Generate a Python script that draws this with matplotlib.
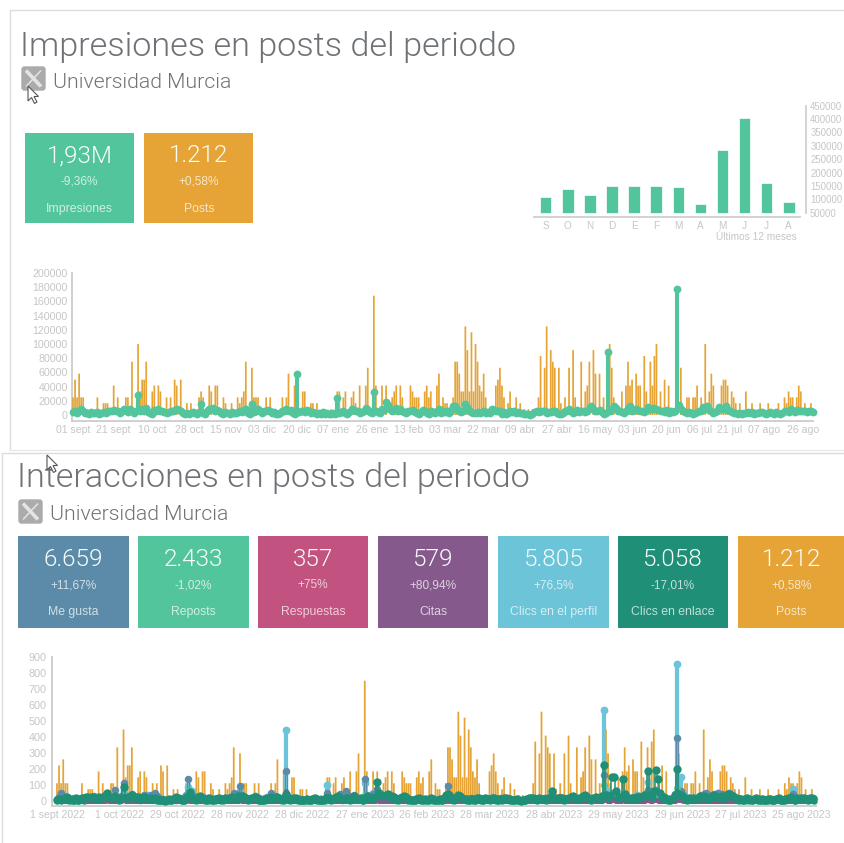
import matplotlib
matplotlib.use("Agg")
import matplotlib.pyplot as plt
from matplotlib.patches import Rectangle, FancyBboxPatch, Polygon

plt.rcParams['font.family'] = ['Liberation Sans', 'DejaVu Sans']
LIGHT = ['Roboto', 'Liberation Sans']

W, H = 845, 843
GREEN, ORANGE = '#52c59d', '#e5a435'
BLUEGREY, PINK, PURPLE, SKY, TEAL = '#5b8ba8', '#c2527f', '#85598c', '#6cc4d8', '#1f8f78'
TICK = '#c6c6c6'; AXIS = '#cfcfcf'; TITLE = '#6e7276'

# ---------- data ----------
post_days = [0,1,2,3,4,5,7,9,12,15,16,17,20,22,24,26,27,29,32,33,34,35,36,39,40,42,43,46,48,50,51,53,56,58,60,62,63,64,
 67,68,70,71,74,75,78,81,82,83,84,85,88,89,90,91,93,95,97,100,103,105,106,109,110,113,114,117,118,120,124,127,130,131,133,134,
 137,138,139,141,144,145,148,149,152,154,157,158,159,161,162,166,167,168,169,170,173,174,175,176,179,180,182,183,184,187,188,189,190,191,192,193,
 194,195,196,197,198,199,200,201,202,203,205,206,208,209,210,211,212,214,215,218,220,222,224,229,230,232,233,235,236,237,239,240,242,244,
 246,247,250,252,253,254,256,257,259,261,264,265,266,270,272,273,274,275,277,278,279,281,282,284,285,286,287,289,291,293,297,299,302,303,305,306,307,
 309,311,313,314,315,319,320,321,322,324,325,326,328,331,334,338,342,347,350,351,352,353,354,356,357,358,360,363]
post_vals = [111,222,111,260,111,111,37,37,111,74,74,74,185,111,37,111,111,335,446,148,222,222,335,148,185,185,148,111,111,222,185,222,74,74,37,111,148,111,
 185,148,185,185,111,74,74,111,74,111,148,335,297,111,111,111,37,111,111,37,111,111,260,185,148,148,148,74,74,74,37,37,148,148,111,148,
 111,148,74,185,185,297,750,185,185,185,111,148,185,185,111,185,148,111,111,111,148,185,111,148,185,260,111,74,74,111,335,335,260,148,148,557,
 408,148,520,148,446,335,185,148,260,111,37,37,185,222,297,185,111,74,148,111,74,37,37,111,371,297,557,408,335,297,297,74,111,297,
 408,111,335,148,185,335,408,260,260,111,446,297,111,148,185,335,185,222,260,185,185,371,148,335,185,371,446,148,222,185,37,297,111,111,111,111,185,
 111,446,148,260,185,185,222,222,185,148,111,74,74,148,74,74,74,74,111,74,148,111,111,111,185,148,74,74]

impressions_k = [
 4,6,3,5,8,5,3,3,2,4,3,3,4,2,3,4,3,5,6,5,
 7,5,6,3,5,9,7,4,8,6,3,5,28,5,9,6,10,4,3,2,
 7,5,8,6,5,4,3,4,5,6,7,9,7,5,3,2,3,2,3,4,
 3,2,4,15,3,2,6,8,9,10,6,7,5,3,2,4,3,2,4,3,
 3,4,6,4,7,8,3,2,16,4,6,8,5,3,6,5,7,5,3,4,
 2,1,3,5,6,8,5,7,3,2,58,4,5,6,4,7,5,3,4,3,
 2,3,1,4,2,3,1,2,3,2,24,3,4,6,3,2,4,8,7,5,
 6,3,4,5,10,7,4,3,32,5,4,3,9,7,18,14,8,5,7,10,
 6,8,5,4,3,5,6,7,4,3,2,4,7,5,3,2,5,4,3,5,
 8,3,6,4,5,3,7,12,13,9,5,4,6,15,11,7,4,3,3,4,
 3,4,5,3,4,3,8,7,5,6,5,2,4,1,3,5,4,5,3,4,
 3,3,2,1,1,0,2,4,5,4,5,6,5,3,4,4,5,6,3,2,
 1,3,5,6,8,6,3,4,7,4,5,5,4,5,9,12,8,6,5,7,
 4,2,3,89,5,8,13,10,5,6,4,3,5,10,12,6,7,8,7,5,
 6,4,5,11,9,8,10,9,7,5,6,4,7,3,5,4,6,178,14,9,
 6,4,3,4,3,2,3,4,6,5,11,9,12,7,5,3,4,6,11,9,
 8,12,7,5,4,3,3,2,3,2,3,3,4,3,4,2,3,3,4,4,
 3,2,3,4,3,2,4,3,2,3,6,5,4,8,5,4,7,5,6,6,
 5,4,6,5,4]

clics_enlace = [
 8,14,6,10,22,28,14,6,9,18,7,12,20,16,24,26,22,28,20,12,
 24,16,28,34,48,26,18,24,30,16,12,20,88,18,22,30,38,16,24,26,
 12,18,28,22,14,20,12,16,10,8,6,5,3,8,14,6,10,24,18,12,
 8,6,16,30,58,20,12,10,24,30,14,10,8,16,12,8,10,14,18,12,
 10,16,14,20,24,18,12,30,16,34,28,20,14,10,18,24,16,8,6,4,
 10,14,18,24,12,20,26,16,12,10,42,16,10,14,20,18,10,6,8,4,
 10,6,8,14,18,10,6,4,8,12,24,18,10,14,26,30,16,12,14,18,
 22,10,16,30,14,12,16,8,22,34,24,14,20,28,120,48,40,30,36,44,
 20,32,28,14,10,22,26,30,24,12,6,4,8,14,18,10,6,12,8,10,
 16,10,4,6,10,8,22,38,46,28,14,10,22,36,34,18,12,10,6,14,
 10,8,22,16,10,6,20,14,12,18,16,10,8,14,10,18,20,14,10,6,
 6,10,4,2,4,8,12,16,20,18,14,10,16,12,14,10,18,22,60,20,
 14,18,22,16,10,14,20,26,30,18,12,16,20,30,38,24,12,10,18,26,
 22,12,30,225,40,18,30,150,148,60,20,28,140,46,16,12,22,18,14,24,
 20,28,30,36,190,38,26,60,195,140,50,18,24,14,10,8,16,40,200,44,
 38,28,16,10,18,14,20,12,16,30,20,34,24,14,18,30,36,26,24,16,
 30,22,38,44,40,32,22,16,10,14,8,12,16,10,6,12,18,10,8,12,
 8,6,10,14,8,6,12,16,8,4,10,14,18,24,12,8,18,14,22,20,
 14,10,18,16,10]

clics_perfil = [
 6,20,30,34,24,12,8,10,14,10,6,8,12,8,14,16,10,18,24,14,
 16,10,22,30,20,14,10,18,24,20,10,24,60,22,18,26,30,14,16,20,
 8,14,30,24,36,30,24,38,30,16,8,6,2,2,2,4,6,8,12,14,
 10,12,30,90,20,60,30,12,14,10,16,8,10,12,8,6,8,12,10,8,
 8,14,12,18,22,16,30,40,60,30,14,10,8,10,14,30,24,10,8,6,
 12,20,16,30,26,24,12,10,8,18,445,20,14,10,12,10,8,4,6,2,
 8,4,6,12,10,6,4,2,6,10,100,20,8,10,18,22,10,8,14,24,
 30,12,18,34,20,10,14,8,115,30,12,10,50,40,60,20,18,14,20,24,
 14,20,16,8,6,16,20,24,18,8,4,2,6,10,14,8,4,8,6,8,
 10,6,2,4,6,4,16,20,22,16,8,6,14,24,20,14,10,8,4,10,
 8,6,14,10,6,4,12,10,8,14,12,8,6,10,8,12,14,10,6,4,
 4,8,2,0,2,6,10,12,16,14,10,8,12,10,12,6,14,18,26,14,
 10,14,18,12,8,12,14,20,24,14,10,12,14,22,26,18,10,8,12,20,
 16,10,24,570,60,14,24,50,44,26,16,20,40,30,12,10,14,16,12,36,
 24,20,24,40,120,50,30,44,60,40,26,14,20,10,8,6,14,34,855,70,
 150,50,14,8,14,10,16,10,12,24,30,40,30,12,14,34,40,30,50,26,
 40,34,44,50,46,24,16,10,8,10,6,10,12,8,4,10,14,8,6,10,
 6,4,8,10,6,4,10,12,6,2,8,12,14,20,75,6,14,10,18,16,
 10,8,14,12,8]

me_gusta = [
 14,28,50,30,24,20,10,12,18,12,10,14,16,12,20,22,18,24,30,20,
 22,14,26,36,30,20,14,24,70,24,16,30,115,30,26,34,44,20,22,26,
 14,20,36,30,24,40,30,48,34,22,12,10,6,6,8,10,12,14,20,22,
 16,18,40,140,28,40,24,18,20,16,24,14,16,18,12,10,14,18,16,14,
 14,20,18,24,28,50,34,44,95,36,20,16,12,16,20,30,26,16,12,10,
 18,26,22,50,32,30,18,14,12,24,190,26,20,16,18,14,12,8,10,6,
 14,8,10,18,16,10,8,6,10,16,50,26,14,16,24,28,44,30,40,60,
 36,18,24,40,26,16,20,14,140,36,18,16,44,36,75,28,24,20,26,30,
 20,26,22,14,10,22,26,30,24,14,8,6,10,16,20,14,8,14,10,14,
 16,10,6,8,12,8,22,40,95,40,14,12,20,30,30,20,14,12,8,16,
 14,10,20,16,10,8,18,16,14,20,18,14,10,16,12,18,20,16,10,8,
 8,12,6,4,6,10,14,18,22,20,16,12,18,14,16,10,20,24,40,20,
 14,20,24,18,12,16,20,26,30,20,14,18,20,28,32,24,14,12,18,26,
 22,14,30,160,44,20,30,46,44,30,20,26,40,36,16,14,20,20,16,30,
 30,26,30,44,70,50,34,60,70,50,30,18,26,14,12,10,18,44,395,60,
 60,40,20,12,18,14,20,14,18,30,36,46,50,18,20,40,44,40,50,30,
 44,36,44,50,40,30,22,14,12,14,10,14,16,12,8,14,18,12,10,14,
 10,8,12,14,10,8,14,16,10,6,12,16,18,26,45,10,18,14,22,20,
 14,12,18,16,12]

reposts = [
 4,8,6,4,10,6,3,4,2,6,3,5,4,3,7,5,6,8,6,4,
 8,4,6,10,12,8,4,6,10,6,3,6,40,5,8,10,12,6,5,8,
 4,6,10,8,4,6,4,6,3,2,1,1,0,2,4,2,4,8,5,4,
 2,2,6,60,8,6,4,3,6,8,5,3,2,5,3,2,3,4,5,3,
 3,5,4,6,8,6,4,8,30,10,6,4,3,4,6,8,5,2,2,1,
 3,4,6,8,4,6,8,5,3,3,50,5,3,4,6,5,3,2,2,1,
 3,2,2,4,5,3,2,1,2,3,30,6,3,4,8,9,5,4,4,6,
 7,3,5,8,4,4,5,2,40,10,6,4,6,8,30,15,10,8,10,12,
 6,10,8,4,3,6,8,8,6,3,2,1,2,4,5,3,2,4,2,3,
 5,3,1,2,3,2,6,10,40,8,4,3,6,10,10,5,4,3,2,4,
 3,2,6,5,3,2,6,4,3,5,5,3,2,4,3,5,6,4,3,2,
 2,3,1,1,1,2,4,5,6,5,4,3,5,4,4,3,5,7,15,6,
 4,5,6,5,3,4,6,8,8,5,4,5,6,8,10,7,4,3,5,8,
 6,4,9,100,12,5,8,20,18,8,6,8,20,12,5,4,6,5,4,8,
 8,8,9,12,40,10,8,15,30,20,12,5,8,4,3,2,5,12,80,15,
 10,8,5,3,5,4,6,4,5,8,6,10,8,4,5,8,10,8,7,5,
 8,6,10,12,10,8,6,5,3,4,2,3,5,3,2,4,5,3,2,3,
 2,2,3,4,2,2,4,5,2,1,3,4,5,8,20,2,5,4,6,5,
 4,3,5,5,3]

respuestas = [
 1,0,2,1,0,3,1,0,1,2,0,1,1,0,2,1,0,1,3,1,
 0,1,2,1,4,2,0,1,2,1,0,1,8,0,1,2,3,1,0,1,
 1,0,2,1,0,1,1,0,1,0,0,0,0,1,0,0,1,2,1,0,
 0,0,1,5,2,1,0,1,2,1,0,1,0,1,1,0,1,0,1,0,
 1,0,1,2,1,0,1,3,4,1,0,1,0,1,2,1,0,1,0,0,
 0,1,1,2,1,0,2,1,1,0,6,1,0,1,1,0,1,0,0,0,
 1,0,0,1,2,0,1,0,1,1,5,1,0,1,1,2,1,0,1,1,
 2,0,1,1,1,0,2,1,6,1,0,1,2,1,4,2,1,2,1,2,
 1,2,1,0,1,1,0,1,1,0,0,0,1,0,1,1,0,1,0,1,
 1,0,0,1,0,0,1,2,3,1,0,1,1,2,1,1,0,1,0,1,
 0,1,1,0,1,0,1,1,0,1,1,0,1,0,1,1,1,0,1,0,
 0,1,0,0,0,1,1,0,1,1,1,0,1,1,0,1,1,2,2,1,
 0,1,1,1,0,1,1,2,2,1,0,1,1,2,3,1,1,0,1,1,
 1,0,2,12,4,1,2,6,4,2,1,2,4,3,1,0,1,1,0,1,
 2,2,2,3,6,3,2,4,6,3,2,1,2,1,0,0,1,3,45,6,
 5,3,1,0,1,1,1,0,1,2,1,3,2,1,1,3,3,2,2,1,
 2,1,3,3,2,2,1,1,0,1,0,1,1,1,0,1,1,0,0,1,
 0,0,1,1,0,0,1,1,0,0,1,1,1,2,3,0,1,1,1,1,
 1,0,1,1,0]

citas = [
 2,1,3,2,1,2,0,1,2,1,1,0,1,2,1,2,1,2,3,1,
 2,1,2,3,5,2,1,2,3,1,1,2,30,2,2,3,4,1,2,2,
 1,2,3,2,1,2,1,1,0,1,0,0,0,1,1,0,1,2,2,1,
 1,1,2,8,3,2,1,1,2,2,1,1,1,2,1,0,1,1,2,1,
 1,2,1,2,3,2,1,2,6,3,1,1,0,1,2,2,1,1,0,0,
 1,1,2,2,1,2,2,1,1,0,60,2,1,1,2,1,1,0,1,0,
 1,0,1,1,2,1,0,0,1,1,6,2,1,1,2,3,1,1,1,2,
 2,1,1,2,1,1,2,1,10,2,1,1,2,2,6,3,2,2,3,3,
 2,2,2,1,1,1,2,2,2,1,0,0,1,1,2,1,0,1,1,1,
 1,1,0,0,1,0,2,3,8,2,1,1,2,2,2,1,1,1,0,1,
 1,1,2,1,1,0,2,1,1,1,2,1,1,1,1,2,2,1,1,0,
 0,1,0,0,0,1,1,2,2,2,1,1,2,1,1,1,2,2,3,2,
 1,2,2,1,1,1,2,2,3,2,1,1,2,2,3,2,1,1,2,2,
 2,1,3,30,5,2,3,8,5,3,2,2,5,3,1,1,2,2,1,2,
 2,2,3,4,8,4,3,5,8,5,3,1,2,1,1,1,1,3,60,7,
 6,4,2,1,1,1,2,1,1,3,2,3,3,1,2,3,3,3,3,2,
 3,2,3,4,3,2,2,1,1,1,1,1,2,1,0,1,2,1,1,1,
 1,0,1,1,1,0,1,1,1,0,1,1,2,2,6,1,2,1,2,2,
 1,1,2,1,1]

months = ['S','O','N','D','E','F','M','A','M','J','J','A']
month_impr = [110000,137000,116000,150000,150000,150000,146000,82000,284000,405000,161000,91000]

top_tick_days = [0,20,39,57,75,93,110,128,147,165,183,202,220,238,257,275,292,308,323,340,359]
top_tick_labels = ['01 sept','21 sept','10 oct','28 oct','15 nov','03 dic','20 dic','07 ene','26 ene','13 feb',
                   '03 mar','22 mar','09 abr','27 abr','16 may','03 jun','20 jun','06 jul','21 jul','07 ago','26 ago']
bot_tick_days = [0,30,58,88,118,148,178,208,239,270,301,329,358]
bot_tick_labels = ['1 sept 2022','1 oct 2022','29 oct 2022','28 nov 2022','28 dic 2022','27 ene 2023','26 feb 2023',
                   '28 mar 2023','28 abr 2023','29 may 2023','29 jun 2023','27 jul 2023','25 ago 2023']
days = list(range(365))

top_kpis = [('1,93M','-9,36%','Impresiones',GREEN,25,134),('1.212','+0,58%','Posts',ORANGE,144.5,253.5)]
bot_kpis = [('6.659','+11,67%','Me gusta',BLUEGREY,18,129),('2.433','-1,02%','Reposts',GREEN,138,249),
            ('357','+75%','Respuestas',PINK,258,368),('579','+80,94%','Citas',PURPLE,378,488),
            ('5.805','+76,5%','Clics en el perfil',SKY,498,609),('5.058','-17,01%','Clics en enlace',TEAL,618,728),
            ('1.212','+0,58%','Posts',ORANGE,738,845)]

# ---------- helpers ----------
fig = plt.figure(figsize=(W/100, H/100), dpi=100, facecolor='white')

def axpx(l, t, r, b, **kw):
    return fig.add_axes([l/W, 1-b/H, (r-l)/W, (b-t)/H], **kw)

ov = fig.add_axes([0, 0, 1, 1], zorder=0)
ov.set_xlim(0, W); ov.set_ylim(H, 0); ov.axis('off')

def header(title, tx, ty, sx, sy, lx, ly):
    ov.text(tx, ty, title, fontsize=24.6, color=TITLE, va='center', ha='left', family=LIGHT, weight=300)
    ov.text(sx, sy, 'Universidad Murcia', fontsize=15.3, color=TITLE, va='center', ha='left', family=LIGHT, weight=300)
    ov.add_patch(FancyBboxPatch((lx+1, ly+1), 23, 23, boxstyle='round,pad=0,rounding_size=2.5', fc='#ababab', ec='#ababab', lw=1))
    ov.plot([lx+5, lx+20], [ly+4.5, ly+20.5], color='#e4e4e4', lw=2.6, solid_capstyle='butt')
    ov.plot([lx+20, lx+5], [ly+4.5, ly+20.5], color='#e4e4e4', lw=1.1, solid_capstyle='butt')

def cursor(x, y):
    pts = [(x,y),(x,y+15),(x+3.5,y+11.5),(x+6.5,y+17.5),(x+9,y+16),(x+6,y+10.5),(x+10.5,y+10.5)]
    ov.add_patch(Polygon(pts, closed=True, fc='white', ec='#555555', lw=0.8, zorder=5))

def kpis(items, top, bottom, yv, yp, yl):
    for val, pct, lab, col, x0, x1 in items:
        ov.add_patch(Rectangle((x0, top), x1-x0, bottom-top, fc=col, ec='none'))
        cx = (x0+x1)/2
        ov.text(cx, yv, val, color='#f8fdfb', fontsize=17.5, ha='center', va='center', family=LIGHT, weight=300)
        ov.text(cx, yp, pct, color='white', fontsize=8.6, ha='center', va='center', alpha=.72)
        ov.text(cx, yl, lab, color='white', fontsize=8.8, ha='center', va='center', alpha=.72)

def clean(ax):
    ax.patch.set_alpha(0)
    for s in ax.spines.values():
        s.set_visible(False)
    ax.tick_params(length=0)

def thin_bars(ax, **kw):
    for p in ax.bar(post_days, post_vals, width=0.85, color=ORANGE, linewidth=0, **kw):
        p.set_snap(False)

# ---------- panels ----------
ov.plot([845, 10, 10], [10, 10, 450], color='#dcdcdc', lw=1)
ov.plot([10, 845], [450, 450], color='#e6e6e6', lw=0.8)
ov.plot([845, 2, 2], [453, 453, 843], color='#dcdcdc', lw=1)

header('Impresiones en posts del periodo', 20, 47, 53, 82.5, 21, 66)
header('Interacciones en posts del periodo', 17, 478.5, 50, 514.5, 18, 499)
kpis(top_kpis, 133, 223, 156, 181, 209)
kpis(bot_kpis, 536, 628, 559.5, 585, 612)
cursor(28, 86)
cursor(47, 455)

# ---------- monthly bars ----------
ax = axpx(534, 105, 806, 216.7, zorder=2)
clean(ax)
pos = list(range(12))
ax.bar(pos, [v-50000 for v in month_impr], bottom=50000, width=0.52, color=GREEN, edgecolor='white', linewidth=0.5)
ax.set_xlim(-0.53, 11.78)
ax.set_ylim(35000, 452600)
ax.yaxis.tick_right()
ax.set_yticks(range(50000, 450001, 50000))
ax.tick_params(axis='y', labelsize=6.9, labelcolor=TICK, pad=3)
ax.set_xticks(pos)
ax.set_xticklabels(months, fontsize=7.2, color=TICK)
ax.tick_params(axis='x', pad=3)
ax.spines['right'].set_visible(True); ax.spines['right'].set_color(AXIS); ax.spines['right'].set_linewidth(1.3)
ax.spines['right'].set_bounds(50000, 450000)
ax.spines['bottom'].set_visible(True); ax.spines['bottom'].set_color(AXIS); ax.spines['bottom'].set_linewidth(1.3)
ax.spines['bottom'].set_bounds(-0.53, 11.52)
ov.text(797, 237, 'Últimos 12 meses', fontsize=7.3, color=TICK, ha='right', va='center')

# ---------- top daily chart ----------
ax = axpx(72, 273, 814, 421, zorder=2)
clean(ax)
ax.set_xlim(-0.5, 364.5)
ax.set_ylim(-8470, 200000)
axp = ax.twinx()
clean(axp)
axp.set_ylim(-8470/224, 200000/224)
axp.set_yticks([])
thin_bars(axp)
axl = ax.twinx()
clean(axl)
axl.set_ylim(-8470, 200000)
axl.set_yticks([])
axl.plot(days, [v*1000 for v in impressions_k], color=GREEN, lw=1.5, marker='o', ms=5.6, mew=0,
         clip_on=False, drawstyle='steps-mid')
ax.set_yticks(range(0, 200001, 20000))
ax.tick_params(axis='y', labelsize=7.7, labelcolor=TICK, pad=3)
ax.set_xticks(top_tick_days)
ax.set_xticklabels(top_tick_labels, fontsize=7.6, color=TICK)
ax.tick_params(axis='x', pad=3)
for s in ('left', 'bottom'):
    ax.spines[s].set_visible(True); ax.spines[s].set_color(AXIS); ax.spines[s].set_linewidth(1.4)
ax.spines['bottom'].set_bounds(-0.5, 364)

# ---------- bottom daily chart ----------
ax = axpx(52, 656.7, 816, 805.7, zorder=2)
clean(ax)
ax.set_xlim(-2.4, 365)
ax.set_ylim(-29, 900)
thin_bars(ax, zorder=1)
ax.plot(days, clics_perfil, color=SKY, lw=1.6, marker='o', ms=5.6, mew=0, zorder=2, drawstyle='steps-mid')
for vals, col, ms in [(me_gusta, BLUEGREY, 5.4), (reposts, GREEN, 5), (respuestas, PINK, 3.6), (citas, PURPLE, 3.6)]:
    ax.plot(days, vals, color=col, lw=0.9, marker='o', ms=ms, mew=0, zorder=3, clip_on=False, drawstyle='steps-mid')
ax.plot(days, clics_enlace, color=TEAL, lw=1.1, marker='o', ms=6, mew=0, zorder=4, drawstyle='steps-mid')
ax.set_yticks(range(0, 901, 100))
ax.tick_params(axis='y', labelsize=7.8, labelcolor=TICK, pad=4)
ax.set_xticks(bot_tick_days)
ax.set_xticklabels(bot_tick_labels, fontsize=7.6, color=TICK)
ax.tick_params(axis='x', pad=3)
for s in ('left', 'bottom'):
    ax.spines[s].set_visible(True); ax.spines[s].set_color(AXIS); ax.spines[s].set_linewidth(1.4)

fig.savefig('out.png', dpi=100)
